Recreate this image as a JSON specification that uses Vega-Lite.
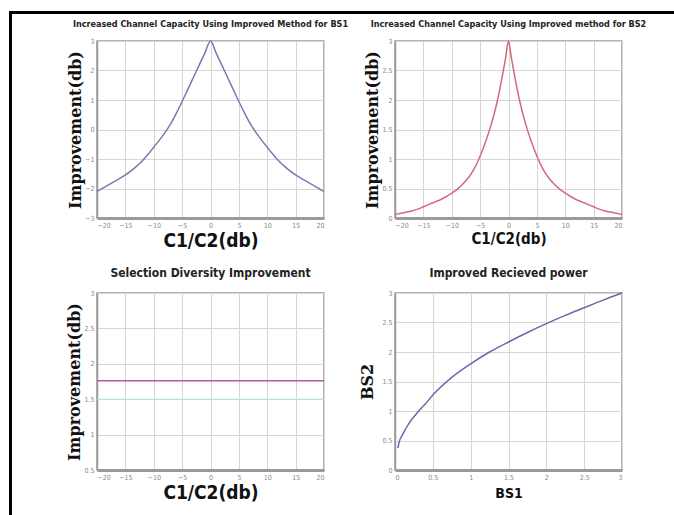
{
  "$schema": "https://vega.github.io/schema/vega-lite/v6.json",
  "padding": {"left": 7, "top": 9, "right": 0, "bottom": 0},
  "background": "white",
  "config": {
    "view": {"stroke": "#9a9a9a", "strokeWidth": 1.5},
    "font": "Liberation Sans Narrow, DejaVu Sans Condensed, sans-serif",
    "axis": {
      "labelFont": "Liberation Sans Narrow, DejaVu Sans Condensed, sans-serif",
      "labelFontSize": 7,
      "labelColor": "#8a8a8a",
      "ticks": false,
      "labelPadding": 3,
      "gridColor": "#d6d6d6",
      "gridWidth": 1,
      "domainColor": "#9a9a9a",
      "titleColor": "#111",
      "format": "~g"
    },
    "axisX": {"domainWidth": 3, "titleFont": "Liberation Sans Narrow, DejaVu Sans Condensed, sans-serif", "titleFontWeight": "bold"},
    "axisY": {"domainWidth": 1.5,
      "titleFont": "DejaVu Serif", "titleFontWeight": "bold", "titleFontSize": 16, "titlePadding": 1},
    "title": {"font": "Liberation Sans Narrow, DejaVu Sans Condensed, sans-serif", "fontWeight": "bold", "color": "#222", "anchor": "middle"}
  },
  "datasets": {
    "bs1": [
      {"x": -20, "y": -2.1}, {"x": -19, "y": -1.99}, {"x": -18, "y": -1.88}, {"x": -17, "y": -1.77},
      {"x": -16, "y": -1.66}, {"x": -15, "y": -1.54}, {"x": -14, "y": -1.4}, {"x": -13, "y": -1.24},
      {"x": -12, "y": -1.06}, {"x": -11, "y": -0.84}, {"x": -10, "y": -0.6}, {"x": -9, "y": -0.36},
      {"x": -8, "y": -0.1}, {"x": -7, "y": 0.2}, {"x": -6, "y": 0.56}, {"x": -5, "y": 0.95},
      {"x": -4, "y": 1.36}, {"x": -3, "y": 1.77}, {"x": -2, "y": 2.18}, {"x": -1, "y": 2.59},
      {"x": 0, "y": 3},
      {"x": 1, "y": 2.59}, {"x": 2, "y": 2.18}, {"x": 3, "y": 1.77}, {"x": 4, "y": 1.36},
      {"x": 5, "y": 0.95}, {"x": 6, "y": 0.56}, {"x": 7, "y": 0.2}, {"x": 8, "y": -0.1},
      {"x": 9, "y": -0.36}, {"x": 10, "y": -0.6}, {"x": 11, "y": -0.84}, {"x": 12, "y": -1.06},
      {"x": 13, "y": -1.24}, {"x": 14, "y": -1.4}, {"x": 15, "y": -1.54}, {"x": 16, "y": -1.66},
      {"x": 17, "y": -1.77}, {"x": 18, "y": -1.88}, {"x": 19, "y": -1.99}, {"x": 20, "y": -2.1}
    ],
    "bs2": [
      {"x": -20, "y": 0.06}, {"x": -19, "y": 0.08}, {"x": -18, "y": 0.1}, {"x": -17, "y": 0.12},
      {"x": -16, "y": 0.15}, {"x": -15, "y": 0.19}, {"x": -14, "y": 0.23}, {"x": -13, "y": 0.27},
      {"x": -12, "y": 0.31}, {"x": -11, "y": 0.36}, {"x": -10, "y": 0.42}, {"x": -9, "y": 0.49},
      {"x": -8, "y": 0.58}, {"x": -7, "y": 0.69}, {"x": -6, "y": 0.84}, {"x": -5, "y": 1.05},
      {"x": -4, "y": 1.3}, {"x": -3, "y": 1.6}, {"x": -2, "y": 1.97}, {"x": -1, "y": 2.45},
      {"x": -0.5, "y": 2.72}, {"x": 0, "y": 3}, {"x": 0.5, "y": 2.72},
      {"x": 1, "y": 2.45}, {"x": 2, "y": 1.97}, {"x": 3, "y": 1.6}, {"x": 4, "y": 1.3},
      {"x": 5, "y": 1.05}, {"x": 6, "y": 0.84}, {"x": 7, "y": 0.69}, {"x": 8, "y": 0.58},
      {"x": 9, "y": 0.49}, {"x": 10, "y": 0.42}, {"x": 11, "y": 0.36}, {"x": 12, "y": 0.31},
      {"x": 13, "y": 0.27}, {"x": 14, "y": 0.23}, {"x": 15, "y": 0.19}, {"x": 16, "y": 0.15},
      {"x": 17, "y": 0.12}, {"x": 18, "y": 0.1}, {"x": 19, "y": 0.08}, {"x": 20, "y": 0.06}
    ],
    "sel": [{"x": -20, "y": 1.76}, {"x": 20, "y": 1.76}],
    "sel2": [{"x": -20, "y": 1.5}, {"x": 20, "y": 1.5}],
    "pw": [
      {"x": 0.04, "y": 0.37}, {"x": 0.05, "y": 0.45}, {"x": 0.1, "y": 0.6}, {"x": 0.2, "y": 0.82},
      {"x": 0.3, "y": 0.98}, {"x": 0.4, "y": 1.12}, {"x": 0.5, "y": 1.27}, {"x": 0.75, "y": 1.57},
      {"x": 1.0, "y": 1.8}, {"x": 1.25, "y": 2.0}, {"x": 1.5, "y": 2.17}, {"x": 1.75, "y": 2.33},
      {"x": 2.0, "y": 2.48}, {"x": 2.25, "y": 2.62}, {"x": 2.5, "y": 2.75}, {"x": 2.75, "y": 2.88},
      {"x": 3.0, "y": 3.0}
    ],
    "blank": [{}]
  },
  "bounds": "flush",
  "align": "none",
  "spacing": 0,
  "hconcat": [
    {
      "data": {"name": "blank"},
      "mark": {"type": "point", "opacity": 0},
      "width": 3, "height": 506,
      "view": {"fill": "black", "stroke": null}
    },
    {
      "bounds": "flush",
      "align": "none",
      "spacing": 27,
      "vconcat": [
        {
          "data": {"name": "blank"},
          "mark": {"type": "point", "opacity": 0},
          "width": 664, "height": 3,
          "view": {"fill": "black", "stroke": null}
        },
        {
          "bounds": "flush",
          "align": "each",
          "columns": 3,
          "spacing": {"row": 75, "column": 71},
          "concat": [
            {
              "data": {"name": "blank"},
              "mark": {"type": "point", "opacity": 0},
              "width": 14, "height": 177,
              "view": {"stroke": null}
            },
            {
              "title": {"text": "Increased Channel Capacity Using Improved Method for BS1", "fontSize": 9, "offset": 8},
              "width": 227, "height": 177,
              "data": {"name": "bs1"},
              "mark": {"type": "line", "color": "#7a78b0", "strokeWidth": 1.5, "interpolate": "monotone"},
              "encoding": {
                "x": {"field": "x", "type": "quantitative", "scale": {"domain": [-20, 20], "nice": false},
                  "axis": {"values": [-20, -15, -10, -5, 0, 5, 10, 15, 20], "title": "C1/C2(db)", "titleFontSize": 19, "titlePadding": 3}},
                "y": {"field": "y", "type": "quantitative", "scale": {"domain": [-3, 3], "nice": false},
                  "axis": {"values": [-3, -2, -1, 0, 1, 2, 3], "title": "Improvement(db)"}}
              }
            },
            {
              "title": {"text": "Increased Channel Capacity Using Improved method for BS2", "fontSize": 9, "offset": 8},
              "width": 227, "height": 177,
              "data": {"name": "bs2"},
              "mark": {"type": "line", "color": "#d26a7a", "strokeWidth": 1.5, "interpolate": "monotone"},
              "encoding": {
                "x": {"field": "x", "type": "quantitative", "scale": {"domain": [-20, 20], "nice": false},
                  "axis": {"values": [-20, -15, -10, -5, 0, 5, 10, 15, 20], "title": "C1/C2(db)", "titleFontSize": 15, "titlePadding": 3}},
                "y": {"field": "y", "type": "quantitative", "scale": {"domain": [0, 3], "nice": false},
                  "axis": {"values": [0, 0.5, 1, 1.5, 2, 2.5, 3], "title": "Improvement(db)"}}
              }
            },
            {
              "data": {"name": "blank"},
              "mark": {"type": "point", "opacity": 0},
              "width": 14, "height": 177,
              "view": {"stroke": null}
            },
            {
              "title": {"text": "Selection Diversity Improvement", "fontSize": 12, "offset": 9},
              "width": 227, "height": 177,
              "encoding": {
                "x": {"field": "x", "type": "quantitative", "scale": {"domain": [-20, 20], "nice": false},
                  "axis": {"values": [-20, -15, -10, -5, 0, 5, 10, 15, 20], "title": "C1/C2(db)", "titleFontSize": 19, "titlePadding": 3}},
                "y": {"field": "y", "type": "quantitative", "scale": {"domain": [0.5, 3], "nice": false},
                  "axis": {"values": [0.5, 1, 1.5, 2, 2.5, 3], "title": "Improvement(db)"}}
              },
              "layer": [
                {
                  "data": {"name": "sel2"},
                  "mark": {"type": "line", "color": "#b2e4ea", "strokeWidth": 1}
                },
                {
                  "data": {"name": "sel"},
                  "mark": {"type": "line", "color": "#b455b4", "strokeWidth": 1.5}
                }
              ]
            },
            {
              "title": {"text": "Improved Recieved power", "fontSize": 12, "offset": 9},
              "width": 227, "height": 177,
              "data": {"name": "pw"},
              "mark": {"type": "line", "color": "#6a6aa8", "strokeWidth": 1.5, "interpolate": "monotone"},
              "encoding": {
                "x": {"field": "x", "type": "quantitative", "scale": {"domain": [0, 3], "nice": false},
                  "axis": {"values": [0, 0.5, 1, 1.5, 2, 2.5, 3], "title": "BS1", "titleFontSize": 14, "titlePadding": 6}},
                "y": {"field": "y", "type": "quantitative", "scale": {"domain": [0, 3], "nice": false},
                  "axis": {"values": [0, 0.5, 1, 1.5, 2, 2.5, 3], "title": "BS2", "titlePadding": 6}}
              }
            }
          ]
        }
      ]
    }
  ]
}
